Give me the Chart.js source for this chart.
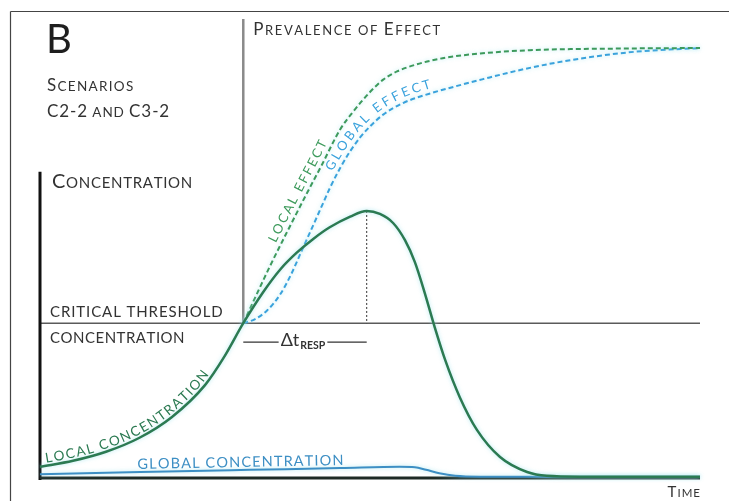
<!DOCTYPE html>
<html>
<head>
<meta charset="utf-8">
<title>Scenarios C2-2 and C3-2</title>
<script src="https://cdn.jsdelivr.net/npm/chart.js@4.4.1/dist/chart.umd.min.js"></script>
<style>
    html, body { margin: 0; padding: 0; background: #fff; }
    canvas { display: block; }
</style>
</head>
<body>
<canvas id="chart" width="729" height="501"></canvas>
<script>
// DATA (time 0-100, concentration 0-100, prevalence of effect 0-100)
const criticalThreshold = 36;

const localTime = [0, 5, 10, 15, 20, 25, 28, 30.8, 33.8, 36.4, 38.9, 41.4, 43.9, 47.0, 49.5, 51.5, 53.5, 55.3, 56.8, 58.3, 59.8, 61.4, 63.6, 66.2, 69.7, 73.8, 76.8, 81.8, 100];
const localConc = [2.6, 4.0, 6.1, 9.3, 14.2, 21.6, 28.4, 36.0, 43.2, 48.5, 52.4, 55.6, 58.3, 60.8, 62.1, 61.4, 59.3, 55.3, 50.2, 43.0, 35.1, 27.4, 18.8, 11.2, 4.9, 1.4, 0.5, 0.3, 0.3];

const globalTime = [0, 15.2, 31.8, 45.5, 54.5, 56.8, 58.5, 60.5, 62.9, 66.7, 100];
const globalConc = [0.9, 1.4, 1.9, 2.3, 2.6, 2.5, 1.9, 1.1, 0.5, 0.3, 0.3];

const localEffectTime = [30.8, 32.6, 34.8, 37.4, 40.5, 42.7, 45.5, 47.5, 50.0, 52.0, 54.1, 57.0, 61.0, 66.7, 74.2, 87.9, 100];
const localEffect = [0, 9.3, 20.5, 33, 47.5, 57.5, 70.5, 77, 84, 88.5, 91.5, 94, 96.3, 98, 99.2, 99.8, 100];

const globalEffectTime = [30.8, 32.6, 34.4, 36.4, 38, 39.5, 41, 42.5, 44, 45.5, 47, 48.5, 50, 52, 55, 59, 63, 67, 72, 78, 84, 90, 100];
const globalEffect = [0, 1.5, 4.6, 10.5, 17.5, 25.5, 33.5, 41.5, 49.5, 56.5, 62.5, 67.5, 71.5, 75.8, 80, 83.4, 86.1, 88.6, 91.6, 94.6, 96.9, 98.6, 100];

// DERIVED
const toPoints = (xs, ys) => xs.map((x, i) => ({ x, y: ys[i] }));
const peakIndex = localConc.indexOf(Math.max(...localConc));
const peakTime = localTime[peakIndex];
const onsetTime = localTime[localConc.findIndex((v) => v >= criticalThreshold)];
// effect axis starts (0) at the critical threshold line
const effectMin = -100 * criticalThreshold / (100 - criticalThreshold);

const FONT = "Lato, 'Open Sans', 'DejaVu Sans', sans-serif";
const TEXT = "#333";
const GREEN = "#2b7a52";
const GREEN_LIGHT = "#3d9a5c";
const BLUE = "#3d8fc4";
const BLUE_LIGHT = "#3aa2dc";

// SMALL CAPS TEXT
function smallCaps(ctx, text, x, y, big, small, spacing, draw = true) {
    let cx = x;
    for (const ch of text) {
        const isBig = ch !== ch.toLowerCase() || /[0-9\-]/.test(ch);
        ctx.font = `${isBig ? big : small}px ${FONT}`;
        const c = ch.toUpperCase();
        if (draw) ctx.fillText(c, cx, y);
        cx += ctx.measureText(c).width + spacing;
    }
    return cx - spacing - x;
}

// CURVE PATH FROM CHART POINTS
function curvePath(meta) {
    const pts = meta.data;
    const path = [];
    for (let i = 0; i < pts.length - 1; i++) {
        const a = pts[i], b = pts[i + 1];
        const c1x = a.cp2x ?? a.x, c1y = a.cp2y ?? a.y;
        const c2x = b.cp1x ?? b.x, c2y = b.cp1y ?? b.y;
        for (let k = 0; k < 12; k++) {
            const t = k / 12, u = 1 - t;
            path.push({
                x: u * u * u * a.x + 3 * u * u * t * c1x + 3 * u * t * t * c2x + t * t * t * b.x,
                y: u * u * u * a.y + 3 * u * u * t * c1y + 3 * u * t * t * c2y + t * t * t * b.y,
            });
        }
    }
    const last = pts[pts.length - 1];
    path.push({ x: last.x, y: last.y });
    let s = 0;
    path.forEach((p, i) => {
        if (i > 0) s += Math.hypot(p.x - path[i - 1].x, p.y - path[i - 1].y);
        p.s = s;
    });
    return path;
}

function arcAtX(path, x) {
    for (let i = 1; i < path.length; i++) {
        if (path[i].x >= x) {
            const a = path[i - 1], b = path[i];
            const f = b.x === a.x ? 0 : (x - a.x) / (b.x - a.x);
            return a.s + f * (b.s - a.s);
        }
    }
    return path[path.length - 1].s;
}

function pointAt(path, s) {
    for (let i = 1; i < path.length; i++) {
        if (path[i].s >= s) {
            const a = path[i - 1], b = path[i];
            const f = b.s === a.s ? 0 : (s - a.s) / (b.s - a.s);
            return { x: a.x + f * (b.x - a.x), y: a.y + f * (b.y - a.y) };
        }
    }
    return path[path.length - 1];
}

function textOnCurve(ctx, path, text, xFrom, xTo, offset, size, color) {
    const s0 = arcAtX(path, xFrom), s1 = arcAtX(path, xTo);
    ctx.font = `${size}px ${FONT}`;
    const chars = [...text];
    const widths = chars.map((c) => ctx.measureText(c).width);
    const total = widths.reduce((a, b) => a + b, 0);
    const gap = (s1 - s0 - total) / (chars.length - 1);
    ctx.fillStyle = color;
    let s = s0;
    chars.forEach((c, i) => {
        const mid = s + widths[i] / 2;
        const p = pointAt(path, mid);
        const p1 = pointAt(path, mid - 5), p2 = pointAt(path, mid + 5);
        ctx.save();
        ctx.translate(p.x, p.y);
        ctx.rotate(Math.atan2(p2.y - p1.y, p2.x - p1.x));
        ctx.fillText(c, -widths[i] / 2, -offset);
        ctx.restore();
        s += widths[i] + gap;
    });
}

function line(ctx, x1, y1, x2, y2, color, width) {
    ctx.beginPath();
    ctx.moveTo(x1, y1);
    ctx.lineTo(x2, y2);
    ctx.strokeStyle = color;
    ctx.lineWidth = width;
    ctx.stroke();
}

// AXES + FRAME (under the curves)
const backdrop = {
    id: "backdrop",
    beforeDatasetsDraw(chart) {
        const { ctx, scales } = chart;
        const x = scales.x, y = scales.y, e = scales.effect;
        const x0 = x.getPixelForValue(0), x1 = x.getPixelForValue(100);
        const yBase = y.getPixelForValue(0), yThr = y.getPixelForValue(criticalThreshold);
        const xOn = x.getPixelForValue(onsetTime);
        ctx.save();
        // frame
        line(ctx, 10.5, 11.5, 729, 11.5, "#444", 1.2);
        line(ctx, 10.5, 11.5, 10.5, 501, "#444", 1.2);
        // threshold
        line(ctx, x0, yThr, x1, yThr, "#5a5a5a", 1.5);
        // prevalence axis
        line(ctx, xOn, e.getPixelForValue(110.5), xOn, yThr, "#8a8a8a", 2.5);
        // concentration axis + time axis
        line(ctx, x0, y.getPixelForValue(71.2), x0, yBase + 2, "#111", 3);
        line(ctx, x0, yBase, x1, yBase, "#1d2a25", 3);
        ctx.restore();
    },
    // soft halo around the curves, as in the printed figure
    beforeDatasetDraw(chart, args) {
        if (args.index > 3) return;
        chart.ctx.save();
        chart.ctx.shadowColor = "rgba(150, 225, 235, 0.7)";
        chart.ctx.shadowBlur = 4;
    },
    afterDatasetDraw(chart, args) {
        if (args.index > 3) return;
        chart.ctx.restore();
    },
};

// TEXT
const labels = {
    id: "labels",
    afterDatasetsDraw(chart) {
        const { ctx, scales } = chart;
        const x = scales.x, y = scales.y;
        const yThr = y.getPixelForValue(criticalThreshold);
        const xOn = x.getPixelForValue(onsetTime), xPk = x.getPixelForValue(peakTime);
        ctx.save();
        ctx.textBaseline = "alphabetic";

        ctx.fillStyle = "#1e1e1e";
        ctx.font = `40px ${FONT}`;
        ctx.fillText("B", 46, 53);

        ctx.fillStyle = TEXT;
        smallCaps(ctx, "Scenarios", 47, 91, 17, 13.5, 1.3);
        smallCaps(ctx, "C2-2 and C3-2", 47, 117, 17, 13.5, 0.9);
        smallCaps(ctx, "Concentration", 52, 188, 20, 15, 0.7);
        smallCaps(ctx, "critical threshold", 50, yThr - 6, 15, 15, 0.9);
        smallCaps(ctx, "concentration", 50, yThr + 20, 15, 15, 0.5);
        smallCaps(ctx, "Prevalence of Effect", xOn + 10, 35, 17, 13, 1.6);
        const wTime = smallCaps(ctx, "Time", 0, 0, 15, 11.5, 1, false);
        smallCaps(ctx, "Time", x.getPixelForValue(100) - wTime, 497, 15, 11.5, 1);

        // delta t response
        ctx.font = `18px ${FONT}`;
        const wD = ctx.measureText("\u0394t").width;
        ctx.font = `bold 10.5px ${FONT}`;
        const wR = ctx.measureText("RESP").width;
        const tx = (xOn + xPk) / 2 - (wD + wR + 1) / 2 - 2;
        const ty = yThr + 19;
        line(ctx, xOn, ty, tx - 2, ty, "#333", 1.3);
        line(ctx, tx + wD + wR + 3, ty, xPk, ty, "#333", 1.3);
        ctx.fillStyle = "#333";
        ctx.font = `18px ${FONT}`;
        ctx.fillText("\u0394t", tx, ty + 4);
        ctx.font = `bold 10.5px ${FONT}`;
        ctx.fillText("RESP", tx + wD + 1, ty + 7);

        // curve labels
        textOnCurve(ctx, curvePath(chart.getDatasetMeta(0)), "LOCAL CONCENTRATION",
            x.getPixelForValue(1), x.getPixelForValue(26), 3, 13.5, GREEN);
        textOnCurve(ctx, curvePath(chart.getDatasetMeta(1)), "GLOBAL CONCENTRATION",
            x.getPixelForValue(14.8), x.getPixelForValue(46), 3, 14.5, BLUE);
        textOnCurve(ctx, curvePath(chart.getDatasetMeta(2)), "LOCAL EFFECT",
            x.getPixelForValue(36.4), x.getPixelForValue(44.2), 5, 13, GREEN_LIGHT);
        textOnCurve(ctx, curvePath(chart.getDatasetMeta(3)), "GLOBAL EFFECT",
            x.getPixelForValue(45), x.getPixelForValue(59.5), 5, 13, BLUE_LIGHT);
        ctx.restore();
    },
};

// CHART
const ctx = document.getElementById("chart").getContext("2d");
new Chart(ctx, {
    type: "line",
    data: {
        datasets: [
            { data: toPoints(localTime, localConc), borderColor: GREEN, borderWidth: 2.5, yAxisID: "y" },
            { data: toPoints(globalTime, globalConc), borderColor: BLUE, borderWidth: 2, yAxisID: "y" },
            { data: toPoints(localEffectTime, localEffect), borderColor: GREEN_LIGHT, borderWidth: 2, borderDash: [5, 3], yAxisID: "effect" },
            { data: toPoints(globalEffectTime, globalEffect), borderColor: BLUE_LIGHT, borderWidth: 2, borderDash: [5, 3], yAxisID: "effect" },
            {
                data: [{ x: peakTime, y: localConc[peakIndex] }, { x: peakTime, y: criticalThreshold }],
                borderColor: "#333", borderWidth: 1, borderDash: [2, 2], yAxisID: "y", cubicInterpolationMode: "default", tension: 0,
            },
        ],
    },
    options: {
        responsive: false,
        animation: false,
        devicePixelRatio: 1,
        layout: { padding: { left: 40, right: 29, top: 48, bottom: 23 } },
        elements: { point: { radius: 0 }, line: { cubicInterpolationMode: "monotone", fill: false } },
        datasets: { line: { clip: false } },
        scales: {
            x: { type: "linear", min: 0, max: 100, display: false },
            y: { min: 0, max: 100, display: false },
            effect: { position: "right", min: effectMin, max: 100, display: false },
        },
        plugins: { legend: { display: false }, tooltip: { enabled: false } },
    },
    plugins: [backdrop, labels],
});
</script>
</body>
</html>
